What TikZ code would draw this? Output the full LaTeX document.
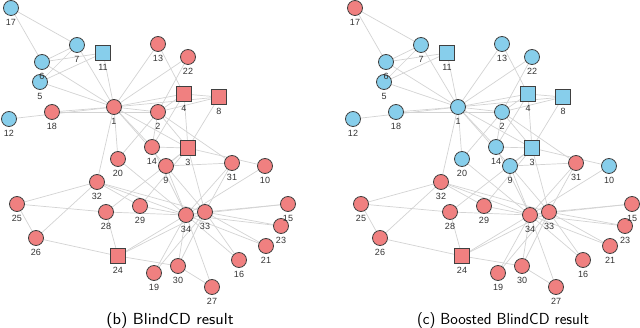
\documentclass[tikz,border=0pt]{standalone}
\usepackage{fontspec}
\usepackage{graphicx}
\newfontfamily\labfont{Liberation Sans}
\definecolor{nred}{HTML}{F08080}
\definecolor{nblue}{HTML}{87CEEB}
\definecolor{nedge}{HTML}{D3D3D3}
\definecolor{nbord}{HTML}{404040}
\tikzset{
  vc/.style={circle,draw=nbord,line width=0.8pt,minimum size=15pt,inner sep=0pt},
  vs/.style={rectangle,draw=nbord,line width=0.8pt,minimum size=15pt,inner sep=0pt},
  vlab/.style={font=\labfont\fontsize{9}{9}\selectfont,text=black!80,inner sep=0pt},
  edge/.style={draw=nedge,line width=0.7pt},
  captext/.style={font=\sffamily\fontsize{16}{17}\selectfont,inner sep=0pt}
}
\def\edgelist{1/2,1/3,1/4,1/5,1/6,1/7,1/8,1/9,1/11,1/12,1/13,1/14,1/18,1/20,1/22,1/32,
2/3,2/4,2/8,2/14,2/18,2/20,2/22,2/31,3/4,3/8,3/9,3/10,3/14,3/28,3/29,3/33,
4/8,4/13,4/14,5/7,5/11,6/7,6/11,6/17,7/17,9/31,9/33,9/34,10/34,14/34,15/33,15/34,
16/33,16/34,19/33,19/34,20/34,21/33,21/34,23/33,23/34,24/26,24/28,24/30,24/33,24/34,
25/26,25/28,25/32,26/32,27/30,27/34,28/34,29/32,29/34,30/33,30/34,31/33,31/34,32/33,32/34,33/34}
\def\poslist{1/114/107,2/158/112,3/188/148,4/184/94,5/40/82,6/42/62,7/77/45,8/219/97,
9/166/166,10/265/166,11/103/53,12/9/119,13/158/44,14/152/147,15/288/204,16/239/260,
17/11/8,18/52/112,19/154/273,20/118/159,21/266/246,22/188/57,23/281/226,24/118/256,
25/17/204,26/36/238,27/212/287,28/106/212,29/140/206,30/178/266,31/232/163,32/97/182,
33/205/212,34/186/215}
\begin{document}
\begin{tikzpicture}[x=1pt,y=-1pt]
\useasboundingbox (0,0) rectangle (640,328);
% coordinates
\foreach \n/\x/\y in \poslist {
  \coordinate (L\n) at (\x,\y);
  \coordinate (R\n) at (\x+344,\y);
}
% edges
\foreach \a/\b in \edgelist {
  \draw[edge] (L\a) -- (L\b);
  \draw[edge] (R\a) -- (R\b);
}
% nodes left panel
\foreach \n/\s/\c in {1/vc/nred,2/vc/nred,3/vs/nred,4/vs/nred,5/vc/nblue,6/vc/nblue,7/vc/nblue,8/vs/nred,
9/vc/nred,10/vc/nred,11/vs/nblue,12/vc/nblue,13/vc/nred,14/vc/nred,15/vc/nred,16/vc/nred,
17/vc/nblue,18/vc/nred,19/vc/nred,20/vc/nred,21/vc/nred,22/vc/nred,23/vc/nred,24/vs/nred,
25/vc/nred,26/vc/nred,27/vc/nred,28/vc/nred,29/vc/nred,30/vc/nred,31/vc/nred,32/vc/nred,
33/vc/nred,34/vc/nred} {
  \node[\s,fill=\c] (a\n) at (L\n) {};
}
% nodes right panel
\foreach \n/\s/\c in {1/vc/nblue,2/vc/nblue,3/vs/nblue,4/vs/nblue,5/vc/nblue,6/vc/nblue,7/vc/nblue,8/vs/nblue,
9/vc/nblue,10/vc/nblue,11/vs/nblue,12/vc/nblue,13/vc/nblue,14/vc/nblue,15/vc/nred,16/vc/nred,
17/vc/nred,18/vc/nblue,19/vc/nred,20/vc/nblue,21/vc/nred,22/vc/nblue,23/vc/nred,24/vs/nred,
25/vc/nred,26/vc/nred,27/vc/nred,28/vc/nred,29/vc/nred,30/vc/nred,31/vc/nred,32/vc/nred,
33/vc/nred,34/vc/nred} {
  \node[\s,fill=\c] (b\n) at (R\n) {};
}
% labels
\foreach \n/\x/\y in \poslist {
  \node[vlab] (la\n) at (\x,\y+14) {\n};
  \node[vlab] (lb\n) at (\x+344,\y+14) {\n};
}
\node[captext] (capb) at (170,320.5) {\scalebox{1.09}[1]{(b) BlindCD result}};
\node[captext] (capc) at (503,320.5) {(c) Boosted BlindCD result};
\end{tikzpicture}
\end{document}
